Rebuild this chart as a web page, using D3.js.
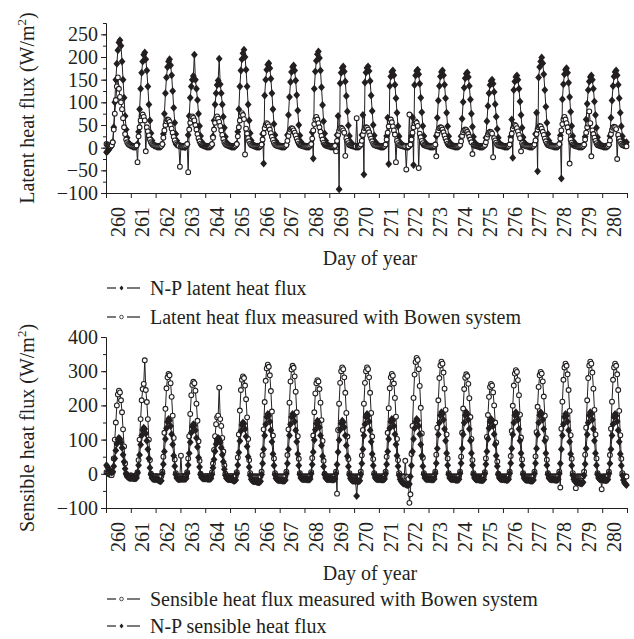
<!DOCTYPE html>
<html>
<head>
<meta charset="utf-8">
<script src="https://cdn.jsdelivr.net/npm/d3@7/dist/d3.min.js"></script>
<style>
  body { margin: 0; background: #fff; }
  svg { display: block; }
  text { font-family: "Liberation Serif", "Times New Roman", serif; fill: #231f20; }
</style>
</head>
<body>
<svg id="chart" width="634" height="639"></svg>
<script>
// day labels on the x axis (one label per day, centred inside the day)
const dayLabels = [260, 261, 262, 263, 264, 265, 266, 267, 268, 269, 270,
                   271, 272, 273, 274, 275, 276, 277, 278, 279, 280];
const latentTicks = [-100, -50, 0, 50, 100, 150, 200, 250];
const sensibleTicks = [-100, 0, 100, 200, 300, 400];

// hourly values (h0..h23) per day, W/m2
const npLatent = [
  [-10, -8, -5, -2, 2, 5, 12, 45, 100, 150, 185, 215, 232, 237, 225, 190, 150, 110, 70, 40, 22, 12, 8, 5],
  [4, 3, 2, 2, 2, 4, 8, 35, 85, 130, 165, 190, 205, 210, 195, 170, 135, 95, 60, 32, 16, 8, 5, 4],
  [3, 2, 2, 2, 2, 3, 7, 30, 75, 120, 155, 178, 190, 195, 182, 160, 125, 88, 55, 30, 15, 8, 5, 4],
  [3, 2, 2, 2, 1, 3, 7, 28, 70, 110, 135, 150, 158, 205, 150, 130, 105, 75, 48, 26, 13, 7, 5, 4],
  [3, 2, 2, 2, 2, 3, 6, 25, 60, 95, 120, 138, 148, 196, 140, 120, 95, 68, 44, 24, 12, 7, 5, 4],
  [3, 2, 2, 2, 2, 4, 8, 35, 85, 135, 170, 195, 208, 216, 200, 172, 135, 95, 60, 32, 16, 8, 5, 4],
  [3, 2, 2, 2, 2, 3, 7, 30, -35, 115, 150, 172, 183, 186, 175, 152, 120, 85, 52, 28, 14, 8, 5, 4],
  [3, 2, 2, 2, 2, 3, 7, 28, 72, 112, 145, 167, 178, 181, 170, 148, 116, 82, 50, 27, 13, 7, 5, 4],
  [3, 2, 2, 2, 2, 4, 8, 34, -24, 130, 168, 192, 206, 212, 198, 170, 133, 94, 58, 31, 15, 8, 5, 4],
  [3, 2, 2, 2, 2, 3, 7, 28, 70, -92, 142, 165, 176, 179, 168, 146, 114, 80, 49, 26, 13, 7, 5, 4],
  [3, 2, 2, 2, 2, 3, 7, 28, 72, -59, 144, 166, 176, 179, 169, 147, 115, 81, 50, 27, 13, 7, 5, 4],
  [3, 2, 2, 2, 2, 3, 6, 26, 66, -36, 136, 157, 167, 170, 160, 139, 109, 77, 47, 25, 12, 7, 5, 4],
  [3, 2, 2, 2, 2, 3, 6, 26, 67, -38, 138, 159, 169, 172, 162, 141, 110, 78, 48, 26, 12, 7, 5, 4],
  [3, 2, 2, 2, 2, 3, 6, 26, 66, 104, 136, 157, 167, 170, 160, 139, 109, 77, 47, 25, 12, 7, 5, 4],
  [3, 2, 2, 2, 2, 3, 6, 25, 64, 101, 132, 153, 163, 166, 156, 136, 106, 75, 46, 24, 12, 7, 5, 4],
  [3, 2, 2, 2, 2, 3, 6, 22, 58, 92, 120, 138, 147, 150, 141, 123, 96, 68, 41, 22, 11, 6, 5, 4],
  [3, 2, 2, 2, 2, 3, 6, 24, 62, -22, 127, 146, 156, 159, 150, 130, 102, 72, 44, 23, 12, 7, 5, 4],
  [3, 2, 2, 2, 2, 4, 8, 30, 77, -52, 155, 178, 190, 199, 186, 162, 127, 90, 55, 30, 15, 8, 5, 4],
  [3, 2, 2, 2, 2, 3, 7, 27, -68, 107, 140, 162, 172, 175, 165, 143, 112, 79, 48, 26, 13, 7, 5, 4],
  [3, 2, 2, 2, 2, 3, 6, 24, 62, 97, 127, 146, 156, 159, 150, 130, 102, 72, 44, 23, 12, 7, 5, 4],
  [3, 2, 2, 2, 2, 3, 6, 26, 66, 104, 136, 157, 167, 170, 160, 139, 109, 77, 47, 25, 14, 10, 10, 12]
];

const bowenLatent = [
  [8, 6, 5, 4, 3, 5, 12, 40, 75, 105, 135, 155, 130, 112, 100, 85, 65, 45, 30, 18, 12, 8, 6, 5],
  [4, 3, 3, 2, 3, 5, -32, 25, 45, 60, 70, 73, 68, 60, -8, 45, 36, 27, 18, 12, 8, 6, 5, 4],
  [4, 3, 3, 3, 3, 4, 8, 22, 38, 50, 58, 62, 61, 57, 50, 42, 33, 24, 16, 10, 7, 5, 4, -42],
  [3, 3, 3, 3, 3, 5, 8, -54, 40, 55, 64, 69, 66, 60, 50, 40, 30, 21, 14, 9, 6, 5, 4, 3],
  [3, 3, 3, 3, 3, 5, 8, 22, 40, 55, 65, 69, 64, 57, 48, 38, 28, 19, 12, 8, 6, 5, 4, 3],
  [3, 3, 3, 3, 3, 5, 8, 25, 45, 60, 71, 76, 72, 63, -15, 42, 31, 21, 14, 9, 6, 5, 4, 3],
  [3, 3, 3, 3, 3, 4, 7, 18, 32, 43, 50, 54, 52, 47, 40, 32, 24, 17, 11, 7, 5, 4, 3, 3],
  [3, 3, 3, 3, 3, 4, 6, 15, 26, 35, 40, 43, 42, 38, 33, 27, 20, 14, 9, 6, 5, 4, 3, 3],
  [3, 3, 3, 3, 3, 5, 8, 20, 38, 52, 62, 68, 62, 54, 45, 35, 26, 18, 11, 7, 5, 4, 3, 3],
  [3, 3, 3, 3, 3, 4, -8, 15, 28, 37, 42, 44, 42, 38, 33, -18, 21, 15, 10, 6, 5, 4, 3, 3],
  [3, 3, 65, 3, 3, 4, 7, 15, 28, 37, 43, 45, 44, 40, 34, 27, 20, 14, 9, 6, 5, 4, 3, 3],
  [3, 3, 3, 3, 3, 4, 7, 18, 33, 47, 57, 62, 56, 47, 38, 29, -32, 15, 10, 6, 5, 4, 3, 3],
  [3, 3, -48, 3, 3, 73, 7, 18, 33, 45, 54, 58, 55, 48, -45, 31, 23, 15, 10, 6, 5, 4, 3, 3],
  [3, 3, 3, 3, 3, 4, 7, -19, 30, 38, 43, 45, 44, 40, 34, 27, 20, 14, 9, 6, 5, 4, 3, 3],
  [3, 3, 3, 3, 3, 4, 6, 14, 26, 34, 38, 40, 39, 35, 30, 24, 18, 12, -14, 6, 5, 4, 3, 3],
  [3, 3, 3, 3, 3, 4, 6, 12, 22, 29, 33, 35, 34, 31, -21, 21, 16, 11, 7, 5, 4, 4, 3, 3],
  [3, 3, 3, 3, 3, 4, 7, 17, 31, 42, 47, 50, 48, 43, 36, 28, 21, -8, 10, 6, 5, 4, 3, 3],
  [3, 3, 3, 3, 3, 4, 7, 16, 30, 40, 45, 48, 47, 42, 35, 28, 20, 14, 9, 6, 5, 4, 3, 3],
  [3, 3, 3, 3, 3, 5, 8, 20, 38, 52, 62, 68, 62, 54, 45, 35, -35, 18, 11, 7, 5, 4, 3, 3],
  [3, 3, 3, 3, 3, 4, 7, 18, 33, 45, 53, 80, 54, -19, 38, 30, 22, 15, 10, 6, 5, 4, 3, 3],
  [3, 3, 3, 3, 3, 4, 7, 16, 30, 39, 44, 46, 45, 41, -25, 28, 20, 14, 9, 6, 5, 4, 3, 3]
];

const bowenSensible = [
  [5, 3, 0, -2, -3, -4, 5, 45, 100, 150, 200, 232, 243, 238, 215, 180, 130, 80, 30, 0, -6, -7, -6, -5],
  [-5, -6, -6, -7, -7, -6, 5, 40, 100, 160, 215, 248, 263, 332, 245, 210, 160, 100, 40, 0, -7, -8, -8, -7],
  [-7, -8, -8, -8, -8, -7, 6, 50, 120, 190, 250, 282, 292, 288, 265, 225, 170, 105, 42, 2, -7, -8, -8, -8],
  [53, -6, -7, -8, -8, -7, 5, 45, 110, 175, 230, 260, 269, 265, 243, 205, 155, 95, 38, 0, -7, -8, -8, -8],
  [-7, -7, -7, -8, -8, -7, 4, 30, 70, 110, 145, 165, 170, 252, 160, 140, 105, 65, 25, 0, -7, -8, -8, -8],
  [-7, -7, -7, -8, -8, -7, 5, 48, 115, 185, 245, 275, 285, 280, 258, 218, 165, 102, 40, 2, -7, -8, -8, -8],
  [-8, -8, -8, -8, -8, -7, 6, 55, 130, 210, 272, 308, 319, 313, 288, 242, 182, 112, 45, 2, -7, -8, -8, -8],
  [-8, -8, -8, -8, -8, -7, 6, 55, 130, 208, 270, 305, 316, 310, 285, 240, 180, 110, 44, 2, -7, -8, -8, -8],
  [-8, -8, -8, -8, -8, -7, 5, 46, 112, 180, 235, 265, 274, 270, 248, 208, 157, 96, 38, 0, -7, -8, -8, -8],
  [-8, -8, -8, -8, -8, -7, 6, -58, 128, 205, 266, 300, 311, 306, 282, 237, 178, 109, 43, 2, -7, -8, -8, -8],
  [-8, -8, -8, -8, -8, -7, 6, 54, 128, 205, 266, 300, 311, 306, 282, 237, 178, 109, 43, 2, -7, -8, -8, -8],
  [-8, -8, -8, -8, -8, -7, 6, 50, 120, 192, 250, 282, 292, 287, 264, 222, 167, 102, 40, 2, -7, -8, -8, -8],
  [-8, 38, -8, -10, -15, -85, -60, 58, 140, 222, 290, 327, 339, 333, 306, 257, 193, 118, 47, 2, -7, -8, -8, -8],
  [-8, -8, -8, -8, -8, -7, 6, 56, 135, 215, 280, 317, 328, 322, 296, 249, 187, 115, 45, 2, -7, -8, -8, -8],
  [-8, -8, -8, -8, -8, -7, 6, 50, 120, 191, 248, 281, 291, 286, 263, 221, 166, 102, 40, 2, -7, -8, -8, -8],
  [-8, -8, -8, -8, -8, -7, 5, 45, 108, 172, 225, 254, 263, 258, 238, 200, 150, 92, 36, 0, -7, -8, -8, -8],
  [-8, -8, -8, -8, -8, -7, 6, 52, 125, 199, 258, 293, 303, 298, 274, 230, 173, 106, 42, 2, -7, -8, -8, -8],
  [-8, -8, -8, -8, -8, -7, 6, 51, 122, 196, 254, 288, 298, 293, 270, 226, 170, 104, 41, 2, -7, -8, -8, -8],
  [-8, -8, -8, -8, -8, -7, 6, -40, 132, 211, 275, 311, 322, 316, 291, 245, 184, 113, 44, 2, -7, -8, -42, -8],
  [-8, -8, -8, -8, -8, -7, 6, 56, 135, 215, 280, 317, 328, 322, 296, 249, 187, 115, 45, 2, -7, -8, -8, -45],
  [-8, -8, -8, -8, -8, -7, 6, 55, 132, 211, 275, 311, 322, 316, 291, 245, 184, 113, 44, 2, -7, -8, -8, -8]
];

const npSensible = [
  [25, 20, 15, 10, 6, 4, 6, 22, 45, 68, 88, 100, 105, 102, 92, 76, 56, 35, 15, 0, -8, -10, -12, -12],
  [-12, -12, -13, -13, -13, -12, 2, 25, 55, 85, 112, 128, 135, 131, 118, 97, 72, 45, 18, -2, -12, -15, -16, -16],
  [-16, -17, -18, -20, -22, -20, 0, 28, 65, 102, 133, 152, 160, 156, 140, 116, 86, 53, 22, -2, -12, -15, -16, -16],
  [-15, -15, -15, -15, -15, -14, 1, 26, 60, 92, 120, 138, 145, 141, 127, 105, 78, 48, 20, -2, -11, -13, -14, -14],
  [-14, -14, -15, -15, -15, -14, -2, 18, 42, 66, 87, 99, 105, 102, 92, 76, 56, 35, 13, -4, -13, -15, -16, -16],
  [-16, -17, -18, -20, -20, -18, 0, 26, 62, 96, 125, 143, 150, 146, 131, 109, 80, 50, 20, -4, -16, -20, -22, -22],
  [-22, -23, -24, -25, -25, -22, -2, 30, 72, 112, 145, 166, 175, 170, 153, 127, 94, 58, 24, -3, -14, -17, -19, -19],
  [-19, -19, -20, -20, -20, -18, 0, 30, 72, 112, 145, 166, 175, 170, 153, 127, 94, 58, 24, -2, -12, -15, -16, -16],
  [-16, -16, -17, -17, -17, -15, 0, 27, 64, 99, 129, 147, 155, 151, 136, 112, 83, 51, 21, -2, -12, -15, -16, -16],
  [-16, -16, -17, -17, -17, -15, 0, 27, 64, 99, 129, 147, 155, 151, 136, 112, 83, 51, 21, -3, -14, -18, -20, -20],
  [-20, -22, -65, -22, -22, -20, -1, 30, 72, 112, 145, 166, 175, 170, 153, 127, 94, 58, 24, -2, -12, -15, -16, -16],
  [-16, -16, -17, -17, -17, -15, 0, 28, 65, 102, 133, 152, 160, 156, 140, 116, 86, 53, 22, -4, -16, -22, -25, -28],
  [-28, -30, -32, -33, -33, -30, -8, 24, 65, 102, 133, 152, 160, 156, 140, 116, 86, 53, 22, -2, -12, -15, -16, -16],
  [-16, -16, -17, -17, -17, -15, 1, 31, 74, 115, 149, 171, 180, 175, 158, 131, 97, 60, 25, -2, -12, -15, -16, -16],
  [-16, -17, -18, -18, -18, -16, 1, 31, 74, 115, 149, 171, 180, 175, 158, 131, 97, 60, 25, -2, -12, -16, -17, -17],
  [-17, -18, -18, -19, -19, -17, 0, 28, 65, 102, 133, 152, 160, 156, 140, 116, 86, 53, 22, -2, -12, -15, -16, -16],
  [-16, -17, -17, -18, -18, -16, 1, 31, 74, 115, 149, 171, 180, 175, 158, 131, 97, 60, 25, -2, -13, -17, -18, -18],
  [-18, -19, -20, -20, -20, -18, 0, 31, 74, 115, 149, 171, 180, 175, 158, 131, 97, 60, 25, -2, -12, -16, -17, -17],
  [-17, -17, -18, -18, -18, -16, 0, 30, 72, 112, 145, 166, 175, 170, 153, 127, 94, 58, 24, -4, -16, -22, -24, -25],
  [-25, -26, -27, -28, -28, -25, -4, 29, 74, 115, 149, 171, 180, 175, 158, 131, 97, 60, 25, -2, -12, -16, -17, -17],
  [-17, -18, -18, -19, -19, -17, 0, 30, 72, 112, 145, 166, 175, 170, 153, 127, 94, 58, 24, -4, -18, -26, -30, -33]
];

const FONT = 20;
const ink = '#231f20';
const svg = d3.select('#chart');
const x = d3.scaleLinear().domain([260, 281]).range([106, 627]);
const diamond = 'M0,-4L3.4,0L0,4L-3.4,0Z';

function toPoints(rows) {
  return rows.flatMap((row, i) => row.map((v, h) => ({t: dayLabels[i] + (h + 0.5) / 24, v: v})));
}

function fmt(d) { return d < 0 ? '\u2212' + (-d) : '' + d; }

function drawSeries(g, y, rows, kind) {
  const pts = toPoints(rows);
  const line = d3.line().x(d => x(d.t)).y(d => y(d.v));
  g.append('path').datum(pts)
    .attr('fill', 'none').attr('stroke', ink).attr('stroke-width', 1)
    .attr('d', line);
  if (kind === 'diamond') {
    g.append('g').selectAll('path').data(pts).enter().append('path')
      .attr('d', diamond)
      .attr('transform', d => 'translate(' + x(d.t) + ',' + y(d.v) + ')')
      .attr('fill', ink);
  } else {
    g.append('g').selectAll('circle').data(pts).enter().append('circle')
      .attr('cx', d => x(d.t)).attr('cy', d => y(d.v)).attr('r', 2.4)
      .attr('fill', '#fff').attr('stroke', ink).attr('stroke-width', 1.1);
  }
}

function legendItem(yPos, kind, label) {
  const g = svg.append('g');
  g.append('line').attr('x1', 107).attr('x2', 116).attr('y1', yPos).attr('y2', yPos)
    .attr('stroke', ink).attr('stroke-width', 1.2);
  g.append('line').attr('x1', 127).attr('x2', 140).attr('y1', yPos).attr('y2', yPos)
    .attr('stroke', ink).attr('stroke-width', 1.2);
  if (kind === 'diamond') {
    g.append('path').attr('d', 'M0,-2.4L2,0L0,2.4L-2,0Z')
      .attr('transform', 'translate(121.5,' + yPos + ')').attr('fill', ink);
  } else {
    g.append('circle').attr('cx', 121.5).attr('cy', yPos).attr('r', 1.8)
      .attr('fill', '#fff').attr('stroke', ink).attr('stroke-width', 0.8);
  }
  g.append('text').attr('x', 150).attr('y', yPos).attr('dy', '0.33em')
    .style('font-size', FONT + 'px').text(label);
}

function drawPanel(o) {
  const y = d3.scaleLinear().domain(o.domain).range([o.bottom, o.top]);
  const g = svg.append('g');

  // series, later ones drawn on top
  o.series.forEach(s => drawSeries(g, y, s.rows, s.kind));

  // y axis with minor ticks
  const minor = d3.range(o.domain[0], o.domain[1] + 0.1, o.minorStep);
  svg.append('g').attr('transform', 'translate(106,0)')
    .call(d3.axisLeft(y).tickValues(minor).tickSize(3).tickSizeOuter(0).tickFormat(''))
    .call(a => a.selectAll('line, path').attr('stroke', ink));
  const ya = svg.append('g').attr('transform', 'translate(106,0)')
    .call(d3.axisLeft(y).tickValues(o.ticks).tickSize(5).tickPadding(3).tickSizeOuter(0).tickFormat(fmt));
  ya.selectAll('line, path').attr('stroke', ink);
  ya.selectAll('text').style('font-size', FONT + 'px').attr('fill', ink);
  ya.attr('font-family', null);

  // x axis
  const xa = svg.append('g').attr('transform', 'translate(0,' + o.bottom + ')')
    .call(d3.axisBottom(x).tickValues(d3.range(260, 282)).tickSize(5).tickSizeOuter(0).tickFormat(''));
  xa.selectAll('line, path').attr('stroke', ink);
  svg.append('g').selectAll('text').data(dayLabels).enter().append('text')
    .attr('transform', d => 'translate(' + x(d + 0.47) + ',' + (o.bottom + 14) + ') rotate(-90)')
    .attr('text-anchor', 'end').attr('dy', '0.35em')
    .style('font-size', FONT + 'px').text(d => d);

  svg.append('text').attr('x', 370).attr('y', o.bottom + 72)
    .attr('text-anchor', 'middle').style('font-size', FONT + 'px').text('Day of year');

  // y title
  const t = svg.append('text')
    .attr('transform', 'translate(34,' + o.titleY + ') rotate(-90)')
    .attr('text-anchor', 'middle').style('font-size', FONT + 'px');
  t.append('tspan').text(o.title + ' (W/m');
  t.append('tspan').attr('dy', -8).style('font-size', '13px').text('2');
  t.append('tspan').attr('dy', 8).text(')');

  o.legend.forEach((l, i) => legendItem(o.legendY[i], l.kind, l.label));
}

drawPanel({
  domain: [-100, 275], top: 23, bottom: 193, ticks: latentTicks, minorStep: 25,
  title: 'Latent heat flux', titleY: 108, legendY: [288, 317],
  series: [{rows: npLatent, kind: 'diamond'}, {rows: bowenLatent, kind: 'circle'}],
  legend: [{kind: 'diamond', label: 'N-P latent heat flux'},
           {kind: 'circle', label: 'Latent heat flux measured with Bowen system'}]
});

drawPanel({
  domain: [-100, 400], top: 337, bottom: 508, ticks: sensibleTicks, minorStep: 50,
  title: 'Sensible heat flux', titleY: 428, legendY: [599, 626],
  series: [{rows: bowenSensible, kind: 'circle'}, {rows: npSensible, kind: 'diamond'}],
  legend: [{kind: 'circle', label: 'Sensible heat flux measured with Bowen system'},
           {kind: 'diamond', label: 'N-P sensible heat flux'}]
});
</script>
</body>
</html>
